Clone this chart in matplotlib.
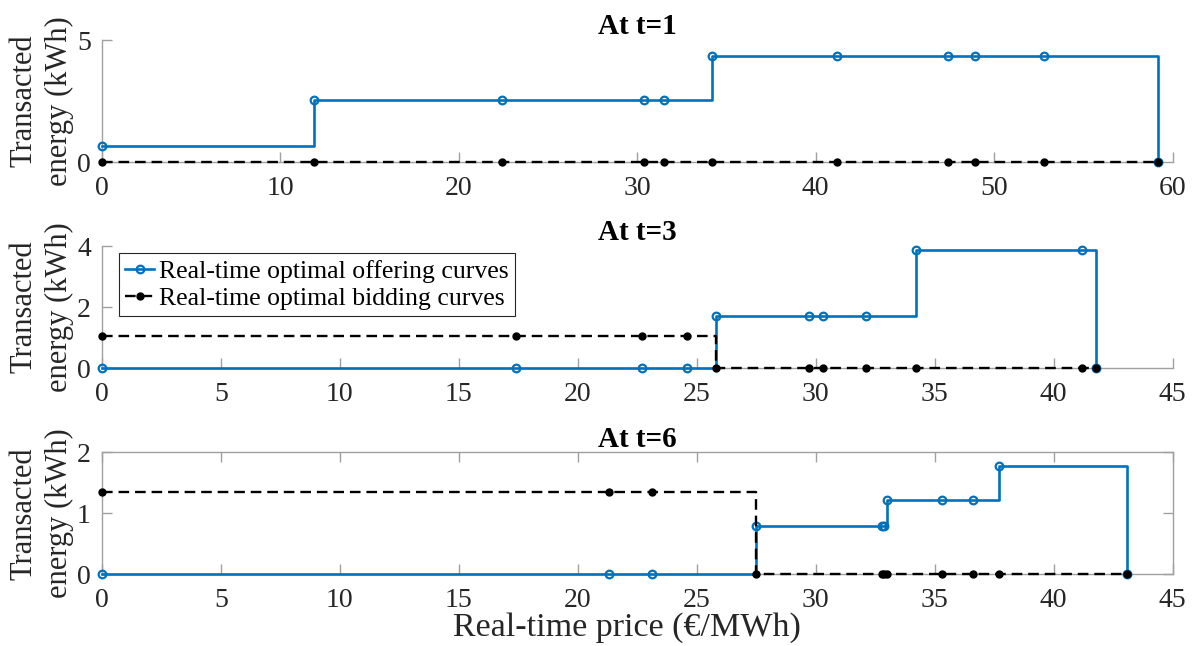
import matplotlib.pyplot as plt

# Data
# t = 1
price_t1 = [0, 11.9, 22.4, 30.4, 31.5, 34.2, 41.2, 47.4, 48.9, 52.8, 59.2]
offer_t1 = [0.67, 2.54, 2.54, 2.54, 2.54, 4.34, 4.34, 4.34, 4.34, 4.34, 0]
bid_t1 = [0, 0, 0, 0, 0, 0, 0, 0, 0, 0, 0]

# t = 3
price_t3 = [0, 17.4, 22.7, 24.6, 25.8, 29.7, 30.3, 32.1, 34.2, 41.2, 41.8]
offer_t3 = [0, 0, 0, 0, 1.7, 1.7, 1.7, 1.7, 3.87, 3.87, 0]
bid_t3 = [1.05, 1.05, 1.05, 1.05, 0, 0, 0, 0, 0, 0, 0]

# t = 6
price_t6 = [0, 21.3, 23.1, 27.5, 32.77, 32.87, 32.99, 35.3, 36.6, 37.7, 43.1]
offer_t6 = [0, 0, 0, 0.79, 0.79, 0.79, 1.22, 1.22, 1.22, 1.77, 0]
bid_t6 = [1.34, 1.34, 1.34, 0, 0, 0, 0, 0, 0, 0, 0]

titles = ['At t=1', 'At t=3', 'At t=6']
xlims = [60, 45, 45]
ylims = [5, 4, 2]
xticks = [range(0, 61, 10), range(0, 46, 5), range(0, 46, 5)]
yticks = [[0, 5], [0, 2, 4], [0, 1, 2]]

plt.rcParams['font.family'] = ['Liberation Serif', 'DejaVu Serif']
blue = '#0072BD'
grey = '#a0a0a0'
txt = '#262626'

fig = plt.figure(figsize=(11.99, 6.46), dpi=100)
boxes = [[0.085, 0.749, 0.893, 0.189],
         [0.085, 0.430, 0.893, 0.189],
         [0.085, 0.111, 0.893, 0.189]]

data = [(price_t1, offer_t1, bid_t1), (price_t3, offer_t3, bid_t3), (price_t6, offer_t6, bid_t6)]

for i in range(3):
    ax = fig.add_axes(boxes[i])
    x, off, bid = data[i]
    ax.plot(x, off, drawstyle='steps-post', color=blue, lw=1.9, marker='o', ms=5.5,
            mfc='none', mew=1.6, clip_on=False, zorder=3,
            label='Real-time optimal offering curves')
    ax.plot(x, bid, drawstyle='steps-post', color='black', lw=1.7, dashes=(4.5, 2.5),
            marker='o', ms=5, mfc='black', mec='black', clip_on=False, zorder=4,
            label='Real-time optimal bidding curves')
    ax.set_xlim(0, xlims[i])
    ax.set_ylim(0, ylims[i])
    ax.set_xticks(list(xticks[i]))
    ax.set_yticks(yticks[i])
    ax.set_title(titles[i], fontsize=21, fontweight='bold', pad=4)
    ax.set_ylabel('Transacted\nenergy (kWh)', fontsize=22, color=txt, labelpad=2,
                  linespacing=1.3)
    boxed = (i == 2)
    for s in ['top', 'right']:
        ax.spines[s].set_visible(boxed)
    for s in ax.spines.values():
        s.set_color(grey)
        s.set_linewidth(1)
    ax.tick_params(direction='in', length=7, width=1, color=grey, labelcolor=txt,
                   labelsize=20, top=boxed, right=boxed)
    ax.tick_params(axis='x', pad=10)
    ax.tick_params(axis='y', pad=8)
    if i == 1:
        leg = ax.legend(loc='upper left', bbox_to_anchor=(0.016, 0.94), fontsize=18.5,
                        handlelength=1.1, handletextpad=0.2, labelspacing=0.15,
                        borderpad=0.25, borderaxespad=0, fancybox=False,
                        framealpha=1)
        leg.get_frame().set_edgecolor(txt)
        leg.get_frame().set_linewidth(0.8)

fig.text(627 / 1199, 1 - 628 / 646, 'Real-time price (€/MWh)', fontsize=24.5, color=txt,
         ha='center', va='center')

fig.savefig('out.png', dpi=100)
